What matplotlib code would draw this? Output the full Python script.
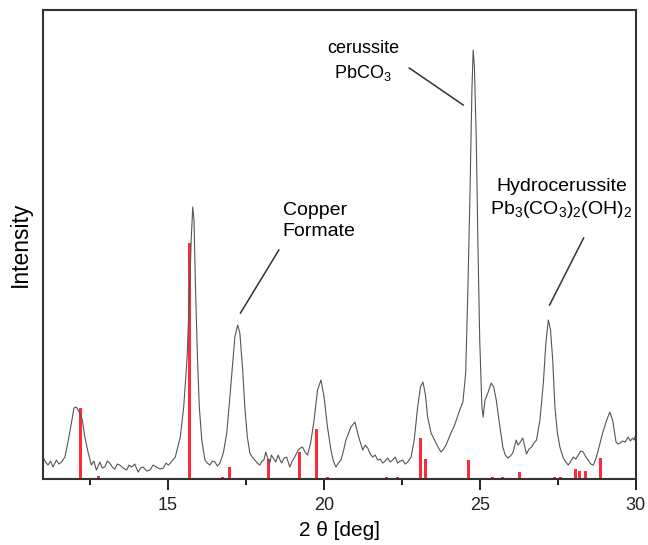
import matplotlib.pyplot as plt
from matplotlib.ticker import MultipleLocator

plt.rcParams['font.family'] = ['Liberation Sans', 'DejaVu Sans']
plt.rcParams['mathtext.fontset'] = 'custom'
plt.rcParams['mathtext.rm'] = 'Liberation Sans'
plt.rcParams['mathtext.default'] = 'regular'

# measured diffraction pattern (2 theta, intensity in arbitrary units)
two_theta = [11.0, 11.08, 11.16, 11.24, 11.32, 11.43, 11.51, 11.59, 11.7, 11.8,
             11.91, 11.99, 12.07, 12.16, 12.26, 12.34, 12.45, 12.55, 12.63, 12.71,
             12.77, 12.82, 12.9, 12.98, 13.06, 13.14, 13.22, 13.3, 13.38, 13.46,
             13.57, 13.68, 13.76, 13.84, 13.94, 14.05, 14.13, 14.21, 14.32, 14.43,
             14.53, 14.64, 14.75, 14.86, 14.94, 15.02, 15.08,
             15.24, 15.4, 15.51, 15.62, 15.7, 15.75, 15.8, 15.84, 15.89, 15.95,
             16.01, 16.09, 16.19, 16.27, 16.35, 16.43, 16.51, 16.59, 16.67, 16.78,
             16.89, 16.99, 17.08, 17.15, 17.24, 17.31, 17.4, 17.47, 17.55, 17.63,
             17.71, 17.79, 17.87, 17.95, 18.02, 18.08, 18.14, 18.19, 18.27, 18.32,
             18.38, 18.46, 18.54, 18.6, 18.65, 18.73, 18.81, 18.86, 18.91, 18.99,
             19.07, 19.18, 19.25, 19.32, 19.4, 19.48, 19.58, 19.69, 19.8, 19.91,
             20.01, 20.12, 20.23, 20.31, 20.39, 20.47, 20.55, 20.63, 20.71, 20.87,
             21.0, 21.12, 21.25, 21.33, 21.41, 21.49, 21.57, 21.65, 21.73, 21.81,
             21.89, 21.97, 22.05, 22.13, 22.21, 22.29, 22.37, 22.45, 22.53, 22.61,
             22.69, 22.8, 22.9, 23.01, 23.1, 23.18, 23.26, 23.33, 23.44, 23.52,
             23.6, 23.68, 23.76, 23.84, 23.92, 24.0, 24.09, 24.17, 24.25, 24.36,
             24.46, 24.55, 24.62, 24.69, 24.75, 24.79, 24.83, 24.89, 24.94, 25.0,
             25.07, 25.11, 25.17, 25.26, 25.37, 25.45, 25.53, 25.63, 25.74, 25.82,
             25.9, 25.98, 26.06, 26.12, 26.17, 26.23, 26.28, 26.38, 26.44, 26.5,
             26.58, 26.66, 26.74, 26.82, 26.93, 27.04, 27.12, 27.2, 27.27, 27.34,
             27.41, 27.49, 27.57, 27.68, 27.76, 27.84, 27.92, 28.0, 28.08, 28.16,
             28.24, 28.32, 28.4, 28.48, 28.56, 28.64, 28.72, 28.8, 28.94, 29.07,
             29.17, 29.26, 29.37, 29.44, 29.5, 29.58, 29.66, 29.76, 29.83, 29.9,
             29.95, 30.0]
intensity = [22, 17, 14, 18, 12, 19, 15, 17, 22, 37,
             56, 71, 72, 67, 59, 42, 26, 14, 18, 9,
             13, 17, 11, 12, 18, 16, 12, 10, 15, 14,
             11, 9, 14, 12, 15, 7, 11, 12, 8, 9,
             14, 12, 10, 11, 16, 14, 16,
             22, 42, 72, 122, 189, 239, 272, 259, 189, 122,
             72, 39, 19, 16, 14, 18, 17, 13, 16, 26,
             46, 82, 116, 142, 154, 146, 109, 72, 42, 26,
             22, 19, 16, 14, 18, 19, 27, 22, 16, 24,
             21, 17, 24, 19, 16, 21, 22, 17, 12, 18,
             22, 29, 31, 32, 27, 24, 36, 59, 89, 99,
             82, 52, 29, 18, 12, 16, 19, 28, 39, 52,
             57, 42, 29, 34, 31, 25, 22, 24, 19, 20,
             16, 18, 21, 17, 19, 22, 16, 18, 19, 15,
             17, 22, 39, 72, 92, 97, 84, 62, 46, 41,
             36, 31, 27, 30, 34, 40, 47, 52, 59, 69,
             77, 106, 189, 289, 389, 429, 412, 339, 239, 139,
             72, 62, 79, 86, 96, 92, 79, 56, 32, 24,
             21, 23, 26, 33, 39, 34, 36, 41, 33, 25,
             30, 32, 36, 39, 59, 96, 136, 159, 149, 119,
             72, 46, 32, 21, 17, 14, 18, 22, 20, 24,
             28, 27, 22, 19, 15, 14, 20, 29, 46, 59,
             67, 59, 37, 35, 36, 38, 37, 42, 38, 41,
             39, 44]

# reference stick pattern
ref_pos = [12.2, 12.77, 15.69, 16.76, 16.98, 18.23, 19.23, 19.78, 20.13, 22.0,
           22.35, 23.09, 23.25, 24.63, 25.4, 25.73, 26.27, 27.4, 27.6, 28.07,
           28.2, 28.4, 28.87]
ref_height = [71, 3, 236, 2, 12, 20, 27, 50, 2, 2,
              2, 41, 20, 19, 2, 2, 7, 2, 2, 10,
              8, 8, 21]

fig = plt.figure(figsize=(6.48, 5.45), dpi=100)
ax = fig.add_axes([0.0664, 0.121, 0.9146, 0.8607])

ax.bar(ref_pos, ref_height, width=0.1, color='#ff2b3a', zorder=1)
ax.plot(two_theta, intensity, color='#555555', lw=0.8, zorder=2)

ax.set_xlim(11, 30)
ax.set_ylim(0, 469)
ax.xaxis.set_major_locator(MultipleLocator(5))
ax.xaxis.set_minor_locator(MultipleLocator(2.5))
ax.set_yticks([])
ax.tick_params(axis='x', which='major', direction='out', length=8, width=1.4,
               labelsize=13, colors='#222222', pad=5)
ax.tick_params(axis='x', which='minor', direction='out', length=4, width=1.4, colors='#222222')
for s in ax.spines.values():
    s.set_linewidth(1.5)
    s.set_color('#333333')

ax.set_xlabel('2 θ [deg]', fontsize=15, labelpad=5)
ax.set_ylabel('Intensity', fontsize=16.5, labelpad=8)

# annotations
ax.text(21.26, 417, 'cerussite\nPbCO$_3$', fontsize=13, ha='center', va='center',
        linespacing=1.4)
ax.plot([22.74, 24.47], [411, 374], color='#333333', lw=1.1)
ax.text(18.68, 258, 'Copper\nFormate', fontsize=14, ha='left', va='center',
        linespacing=1.3)
ax.plot([18.56, 17.33], [229, 166], color='#333333', lw=1.1)
ax.text(27.62, 280, 'Hydrocerussite\nPb$_3$(CO$_3$)$_2$(OH)$_2$', fontsize=14,
        ha='center', va='center', linespacing=1.3)
ax.plot([28.33, 27.24], [241, 174], color='#333333', lw=1.1)

fig.savefig('out.png', dpi=100)
